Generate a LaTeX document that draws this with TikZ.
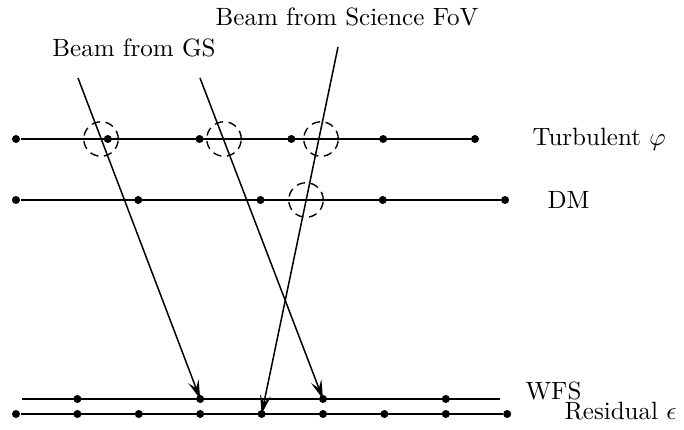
\documentclass[tikz,border=0pt]{standalone}
\usetikzlibrary{arrows.meta}

\begin{document}
\begin{tikzpicture}[
  x=0.4pt, y=-0.4pt,
  % Node styles
  dot/.style={
    circle,
    fill=black,
    inner sep=0pt,
    minimum size=3.2pt,
  },
  probe/.style={
    circle,
    draw,
    dash pattern=on 3.4pt off 2.2pt,
    line width=0.55pt,
    minimum size=13.8pt,
    inner sep=0pt,
  },
  tag/.style={
    anchor=west,
    inner sep=0pt,
  },
  % Edge styles
  layer/.style={
    line width=0.8pt,
  },
  beam/.style={
    line width=0.6pt,
    -{Stealth[length=7.6pt, width=4.4pt, inset=3pt]},
  },
]

  \useasboundingbox (0,0) rectangle (684,430);

  % Spacing constants (plain numbers, in px)
  \pgfmathsetmacro{\turbsep}{91.8}   % dots on turbulent layer
  \pgfmathsetmacro{\dmsep}{122.25}   % dots on DM
  \pgfmathsetmacro{\ressep}{61.4}    % dots on residual / WFS

  % Turbulent layer (6 dots)
  \foreach \i in {0,...,5} {
    \node[dot] (T-\i) at ({16 + \i*\turbsep}, 139) {};
  }
  \draw[layer] (T-0) -- (T-5);

  % DM (5 dots)
  \foreach \i in {0,...,4} {
    \node[dot] (D-\i) at ({16 + \i*\dmsep}, 200) {};
  }
  \draw[layer] (D-0) -- (D-4);

  % WFS (4 dots, no end dots)
  \coordinate (W-start) at (22, 399);
  \coordinate (W-end) at (500, 399);
  \foreach \i in {1,3,5,7} {
    \node[dot] (W-\i) at ({16 + \i*\ressep}, 399) {};
  }
  \draw[layer] (W-start) -- (W-end);

  % Residual (9 dots)
  \foreach \i in {0,...,8} {
    \node[dot] (R-\i) at ({16 + \i*\ressep}, 414) {};
  }
  \draw[layer] (R-0) -- (R-8);

  % Beams
  \coordinate (GS-1) at (78, 78);
  \coordinate (GS-2) at (200, 78);
  \coordinate (SC) at (338, 47);
  \draw[beam] (GS-1) -- (W-3.center);
  \draw[beam] (GS-2) -- (W-5.center);
  \draw[beam] (SC) -- (R-4.center);

  % Footprints of the beams on the layers
  \node[probe] (P-1) at (101, 139) {};
  \node[probe] (P-2) at (224, 139) {};
  \node[probe] (P-3) at (321, 139) {};
  \node[probe] (P-4) at (306, 200) {};

  % Labels
  \node (gs label) at (134, 48) {Beam from GS};
  \node (sc label) at (347, 17) {Beam from Science FoV};
  \node[tag] (turb label) at (532, 139) {Turbulent $\varphi$};
  \node[tag] (dm label) at (547, 200) {DM};
  \node[tag] (wfs label) at (525, 391) {WFS};
  \node[tag] (res label) at (564, 411) {Residual $\epsilon$};

\end{tikzpicture}
\end{document}
